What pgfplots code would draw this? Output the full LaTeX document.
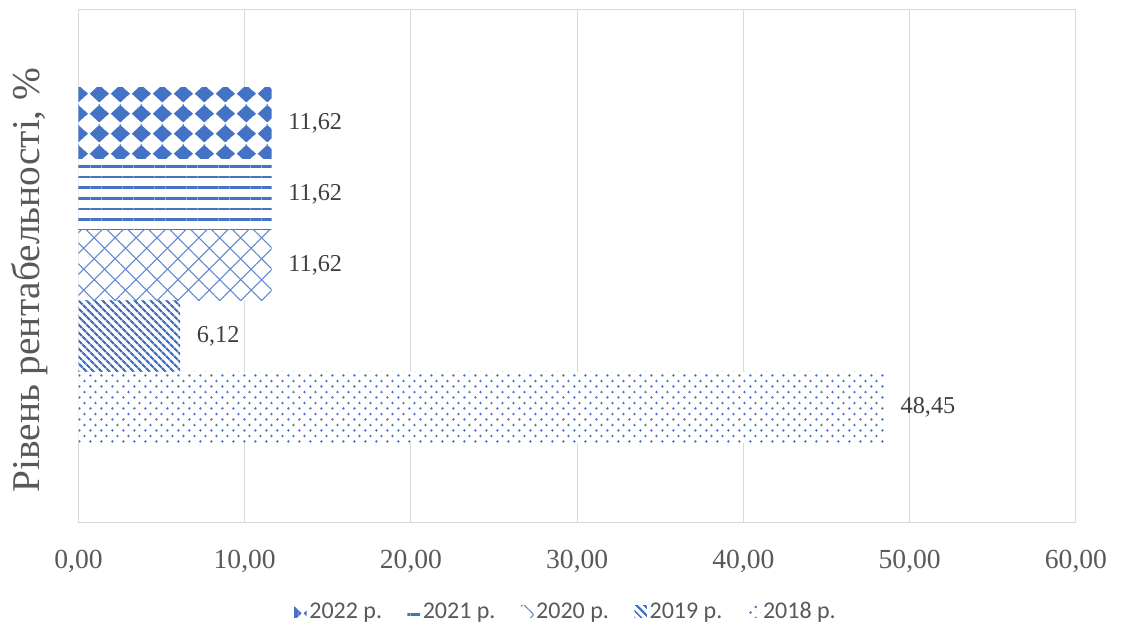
\documentclass[border=0pt]{standalone}
\usepackage{fontspec}
\setmainfont{Liberation Serif}
\newfontfamily\legfont{Carlito}
\usepackage{pgfplots}
\pgfplotsset{compat=1.18}
\usetikzlibrary{patterns.meta}
\definecolor{bblue}{HTML}{4472C4}
\definecolor{tgray}{HTML}{595959}
\definecolor{dgray}{HTML}{404040}
\definecolor{lgray}{HTML}{D9D9D9}

\newcommand\dia[2]{\fill (#1pt,#2pt-6.8pt) -- (#1pt+7.3pt,#2pt) -- (#1pt,#2pt+6.8pt) -- (#1pt-7.3pt,#2pt) -- cycle;}
\tikzdeclarepattern{name=mydiamonds, type=uncolored,
  bottom left={(0pt,0pt)}, top right={(16pt,15pt)}, tile size={(16pt,15pt)},
  code={\dia{11}{8.8}\dia{-5}{8.8}\dia{11}{-6.2}\dia{-5}{-6.2}}}
\tikzdeclarepattern{name=mydots, type=uncolored,
  bottom left={(0pt,0pt)}, top right={(8.25pt,8.5pt)}, tile size={(8.25pt,8.5pt)},
  code={\fill (2pt,2pt) circle (1.05pt); \fill (6.125pt,6.25pt) circle (1.05pt);}}

\begin{document}
\begin{tikzpicture}
\useasboundingbox (-58.875pt,-77.25pt) rectangle (783.375pt,391.5pt);
\begin{axis}[
  at={(0pt,0pt)}, anchor=south west,
  scale only axis, width=748.1pt, height=384.4pt,
  xbar, bar width=1, bar shift=0pt,
  xmin=0, xmax=60, ymin=-1.613, ymax=5.606,
  xtick={0,10,...,60}, ytick=\empty,
  xmajorgrids, major grid style={draw=lgray, line width=0.75pt},
  axis line style={draw=lgray, line width=0.75pt},
  major tick length=0pt,
  /pgf/number format/.cd, use comma, fixed, fixed zerofill, precision=2, assume math mode=true, /pgfplots/.cd,
  xticklabel style={font=\fontsize{20.7}{24}\selectfont, text=tgray, yshift=-17.5pt},
  every axis y label/.style={at={(axis description cs:-0.0486,0.472)}, rotate=90, anchor=center},
  ylabel={Рівень рентабельності, \%},
  ylabel style={font=\fontsize{29.5}{32}\selectfont, text=tgray},
  nodes near coords, point meta=x,
  every node near coord/.append style={font=\fontsize{18.2}{20}\selectfont, text=dgray, anchor=west, xshift=9pt},
  legend style={at={(axis description cs:0.489,-0.175)}, anchor=center, draw=none,
    font=\legfont\fontsize{18}{20}\selectfont, text=tgray,
    /tikz/every even column/.append style={column sep=17pt}},
  legend columns=5,
  legend image code/.code={\path[#1] (0pt,-4.5pt) rectangle (9.5pt,4.5pt);},
]
\addplot[draw=none, fill=white, postaction={pattern=mydiamonds, pattern color=bblue}] coordinates {(11.62,4)};
\addlegendentry{2022 р.}
\addplot[draw=none, fill=white, postaction={pattern={Lines[angle=0,distance=8pt,line width=1.8pt]}, pattern color=bblue}] coordinates {(11.62,3)};
\addlegendentry{2021 р.}
\addplot[draw=none, fill=white, postaction={pattern={Lines[angle=45,distance=11.1pt,line width=0.8pt]}, pattern color=bblue!85}, postaction={pattern={Lines[angle=-45,distance=11.1pt,line width=0.8pt]}, pattern color=bblue!85}] coordinates {(11.62,2)};
\addlegendentry{2020 р.}
\addplot[draw=none, fill=white, postaction={pattern={Lines[angle=-45,distance=4pt,line width=1.8pt]}, pattern color=bblue}] coordinates {(6.12,1)};
\addlegendentry{2019 р.}
\addplot[draw=none, fill=white, postaction={pattern=mydots, pattern color=bblue}] coordinates {(48.45,0)};
\addlegendentry{2018 р.}
\end{axis}
\end{tikzpicture}
\end{document}
